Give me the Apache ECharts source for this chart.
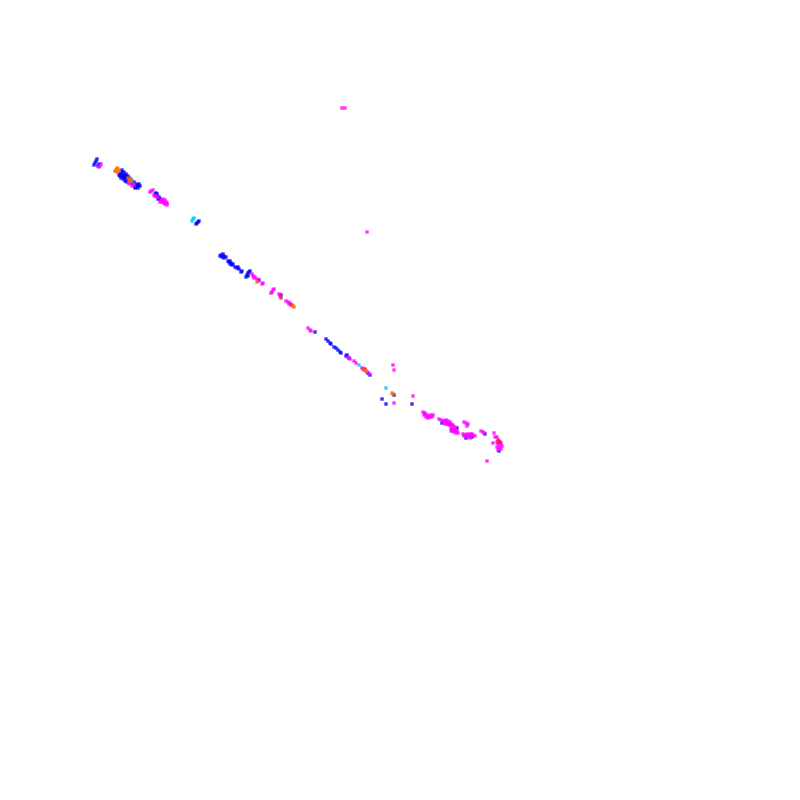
<!DOCTYPE html>
<html><head><meta charset="utf-8">
<script src="https://cdn.jsdelivr.net/npm/echarts@6/dist/echarts.min.js"></script>
<style>html,body{margin:0;padding:0;background:#fff}#c{width:800px;height:800px}</style>
</head><body><div id="c"></div>
<script>
// Point values [x, y] in chart units (0..800 each, y grows downward)
const bluePts = [
  [97,159],[96,161],[95,163],[94,165],[99,164],[98,166],
  [120,173],[122,174],[121,176],[123,176],[124,177],[125,178],[124,175],[126,176],[127,179],[128,180],[126,180],[129,178],[122,172],[125,176],
  [119,175],[121,178],[123,179],[125,181],[122,170],[124,172],[126,174],[128,176],[120,176],[127,182],
  [134,182],[136,184],[137,186],[138,185],[136,187],[135,186],[139,184],[133,184],[135,188],[138,188],[140,186],
  [155,194],[157,194],[159,197],[160,199],[157,196],[156,193],[158,199],
  [199,221],[198,222],[197,223],[196,224],
  [221,255],[223,254],[222,257],[224,258],[226,257],[224,256],[220,256],
  [228,261],[229,262],[231,263],[232,265],[233,264],[230,261],[230,264],
  [235,267],[237,268],[238,267],[239,269],
  [241,272],[242,271],
  [247,275],[248,273],[249,272],[250,271],[246,277],[248,276],
  [259,280],[281,295],
  [315,332],[326,339],[328,341],[330,343],[331,344],[334,347],[336,348],[338,350],[340,352],[341,353],
  [346,356],[347,355],[349,358],[368,373],[370,375],
  [394,395],[382,399],[386,404],[412,404],
  [442,423],[450,424],[457,428],[466,438],[472,437],[485,434],[499,451]
];
const magentaPts = [
  [101,164],[100,166],[99,167],
  [131,183],[133,184],[134,185],[130,182],[129,184],[132,186],[131,179],
  [151,191],[153,190],[150,192],
  [156,196],[158,197],[155,196],[154,195],
  [161,200],[163,201],[164,203],[166,202],[165,204],[167,203],[162,202],[163,199],[160,202],[165,200],[167,205],
  [252,274],[253,276],[255,277],[254,278],
  [257,279],[258,281],
  [262,284],[263,283],
  [272,292],[273,290],[274,289],[271,293],
  [279,294],[280,296],
  [286,301],[288,302],[289,304],[290,303],[291,305],
  [308,328],[310,330],[311,331],
  [348,357],[350,359],[354,361],[356,363],
  [362,368],[363,369],[365,370],[367,372],[369,374],
  [393,365],[394,370],[394,403],[413,396],
  [342,108],[345,108],[367,232],
  [423,412],[425,413],[424,415],[427,415],[429,416],[431,415],[433,415],[426,417],[428,418],[430,417],[425,414],[432,417],
  [439,419],[441,420],[443,421],
  [444,421],[446,422],[448,421],[450,422],[447,424],[449,425],[451,424],[453,425],[445,424],[446,420],[448,423],[452,426],
  [451,428],[453,429],[455,430],[457,431],[454,432],[456,433],[458,433],[452,430],[455,427],[453,431],[456,429],[451,431],
  [464,422],[466,423],[468,424],[467,426],
  [463,434],[465,435],[467,434],[469,435],[471,436],[473,435],[475,436],[466,436],[468,437],[470,438],[464,436],[470,434],[472,434],
  [481,431],[483,432],[484,433],
  [494,433],[495,437],[497,437],[493,443],
  [497,442],[499,441],[501,443],[498,444],[500,445],[502,446],[497,447],[499,448],[501,449],[498,450],[500,442],
  [487,461]
];
const orangePts = [
  [116,170],[118,169],[117,172],[119,171],[115,171],[117,168],
  [128,178],[130,180],[129,181],
  [257,282],[293,306],[294,307],
  [364,370],[366,371],[392,393],[393,394]
];
const redPts = [[292,305],[281,298],[365,369],[498,440],[499,442]];
const cyanPts = [[193,219],[194,218],[192,221],[359,365],[386,388]];
const greenPts = [[131,180],[132,181]];

const chart = echarts.init(document.getElementById('c'));
function s(name, data, color) {
  return { name, type: 'scatter', data, symbol: 'rect', symbolSize: 3.4,
    itemStyle: { color }, silent: true, animation: false };
}
chart.setOption({
  backgroundColor: '#ffffff',
  animation: false,
  grid: { left: 0, right: 0, top: 0, bottom: 0 },
  xAxis: { type: 'value', min: 0, max: 800, show: false },
  yAxis: { type: 'value', min: 0, max: 800, inverse: true, show: false },
  series: [
    s('blue', bluePts, '#0000ff'),
    s('cyan', cyanPts, '#00c8ff'),
    s('magenta', magentaPts, '#ff00ff'),
    s('green', greenPts, '#33bb33'),
    s('red', redPts, '#ff1a1a'),
    s('orange', orangePts, '#ff6a00')
  ]
});
</script></body></html>
